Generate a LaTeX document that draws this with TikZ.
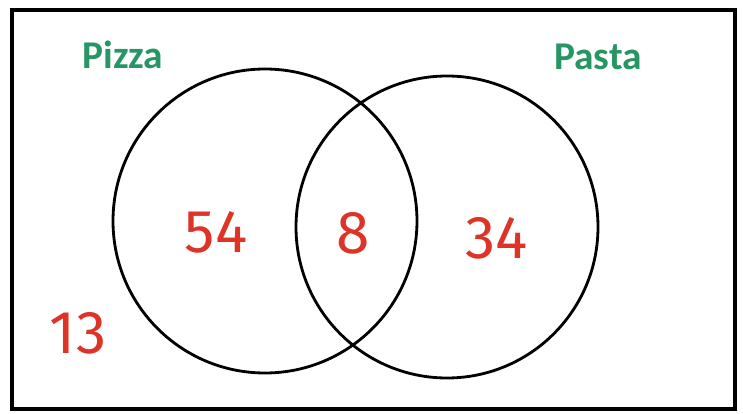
\documentclass[tikz,border=0pt]{standalone}
\usepackage{fontspec}
\newfontfamily\setfont{Carlito}
\newfontfamily\countfont{Fira Sans}
\usepackage{tikz}
\definecolor{setgreen}{RGB}{40,150,100}
\definecolor{countred}{RGB}{222,52,40}

\begin{document}
\begin{tikzpicture}[x=0.025cm, y=-0.025cm,
  setname/.style={text=setgreen, font=\setfont\bfseries\fontsize{28}{30}\selectfont},
  count/.style={text=countred, font=\countfont\fontsize{43}{46}\selectfont}]

\useasboundingbox (0,0) rectangle (743,414);
\fill[white] (0,0) rectangle (743,414);

% universe and the two sets
\draw[line width=2.2pt] (12,10) rectangle (735,409);
\draw[line width=2pt] (265,221) circle (152);
\draw[line width=2pt] (447,227) circle (151);

\node[setname] (pizza) at (123,55) {Pizza};
\node[setname] (pasta) at (598,57) {Pasta};

\node[count] (onlypizza) at (216,232) {54};
\node[count] (both) at (353,233) {8};
\node[count] (onlypasta) at (497,238) {34};
\node[count] (neither) at (78,333) {13};

\end{tikzpicture}
\end{document}
